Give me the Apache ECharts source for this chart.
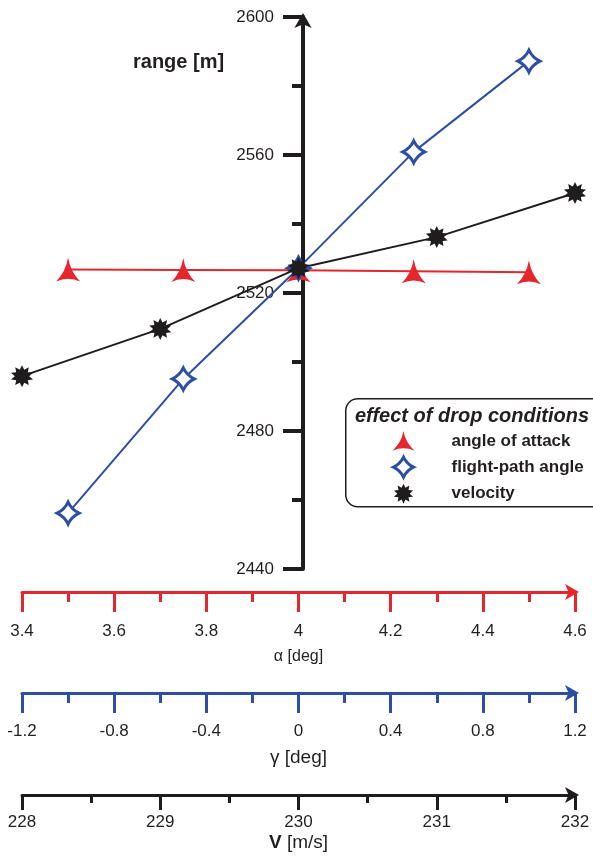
<!DOCTYPE html>
<html>
<head>
<meta charset="utf-8">
<script src="https://cdn.jsdelivr.net/npm/echarts@6/dist/echarts.min.js"></script>
<style>
  html, body { margin: 0; padding: 0; background: #fff; }
  #chart { width: 593px; height: 857px; }
</style>
</head>
<body>
<div id="chart"></div>
<script>
// data
const alphaVals = [3.5, 3.75, 4.0, 4.25, 4.5];
const alphaRange = [2526.8, 2526.7, 2526.6, 2526.3, 2526.0];
const gammaVals = [-1.0, -0.5, 0, 0.5, 1.0];
const gammaRange = [2456.2, 2495.1, 2527.2, 2560.9, 2587.2];
const velVals = [228, 229, 230, 231, 232];
const velRange = [2495.9, 2509.6, 2527.2, 2536.2, 2549.0];
const seriesNames = ['angle of attack', 'flight-path angle', 'velocity'];

const RED = '#e5262c', BLUE = '#2d4ea5', BLACK = '#1f1c1d';
const TXT = '#231f20';
const FONT = '"Liberation Sans", Arial, sans-serif';

// marker shapes
const triStar = 'path://M0,-11 Q1.8,-1 9.5,6 Q0,2 -9.5,6 Q-1.8,-1 0,-11Z';
const fourStar = 'path://M0,-10 Q3.2,-3.2 10,0 Q3.2,3.2 0,10 Q-3.2,3.2 -10,0 Q-3.2,-3.2 0,-10Z';
let p = '';
for (let i = 0; i < 20; i++) {
  const r = i % 2 === 0 ? 10 : 6.2;
  const a = Math.PI * i / 10 - Math.PI / 2;
  p += (i === 0 ? 'M' : 'L') + (r * Math.cos(a)).toFixed(2) + ',' + (r * Math.sin(a)).toFixed(2);
}
const manyStar = 'path://' + p + 'Z';

function zip(xs, ys) { return xs.map((x, i) => [x, ys[i]]); }

function bottomAxis(min, max, interval, offset, color, tickLen, labelMargin, name, nameGap, nameStyle) {
  return {
    type: 'value', position: 'bottom', offset: offset,
    min: min, max: max, interval: interval,
    name: name, nameLocation: 'middle', nameGap: nameGap, nameMoveOverlap: false,
    nameTextStyle: nameStyle,
    axisLine: { show: true, onZero: false, symbol: ['none', 'arrow'], symbolSize: [12, 14], symbolOffset: [0, 4],
      lineStyle: { color: color, width: 3 } },
    axisTick: { show: true, inside: false, length: tickLen, lineStyle: { color: color, width: 3 } },
    minorTick: { show: true, splitNumber: 2, length: Math.round(tickLen / 2), lineStyle: { color: color, width: 3 } },
    axisLabel: { color: TXT, fontSize: 17, fontFamily: FONT, margin: labelMargin, showMinLabel: true, showMaxLabel: true,
      formatter: v => String(+v.toFixed(2)) },
    splitLine: { show: false }
  };
}

const option = {
  animation: false,
  backgroundColor: '#fff',
  grid: { left: 22, right: 18, top: 17, bottom: 288, containLabel: false, outerBoundsMode: 'none' },
  xAxis: [
    bottomAxis(3.4, 4.6, 0.2, 23, RED, 20, 31, 'α [deg]', 57, { color: TXT, fontSize: 16, fontFamily: FONT }),
    bottomAxis(-1.2, 1.2, 0.4, 124, BLUE, 20, 30, 'γ [deg]', 55, { color: TXT, fontSize: 19, fontFamily: FONT }),
    bottomAxis(228, 232, 1, 226, BLACK, 15, 19, '{b|V} [m/s]', 38,
      { color: TXT, fontSize: 19, fontFamily: FONT, rich: { b: { fontWeight: 'bold', fontSize: 19, fontFamily: FONT, color: TXT } } })
  ],
  yAxis: [{
    type: 'value', position: 'left', offset: -281,
    min: 2440, max: 2600, interval: 40,
    axisLine: { show: true, onZero: false, symbol: ['none', 'arrow'], symbolSize: [13, 15], symbolOffset: [0, 4],
      lineStyle: { color: BLACK, width: 4 } },
    axisTick: { show: true, inside: false, length: 20, lineStyle: { color: BLACK, width: 4 } },
    minorTick: { show: true, splitNumber: 2, length: 11, lineStyle: { color: BLACK, width: 4 } },
    axisLabel: { color: TXT, fontSize: 17, fontFamily: FONT, margin: 29, showMinLabel: true, showMaxLabel: true,
      formatter: v => String(v) },
    splitLine: { show: false }
  }],
  legend: {
    orient: 'vertical', left: 387, top: 426,
    itemWidth: 22, itemHeight: 20, itemGap: 5,
    textStyle: { color: TXT, fontSize: 17, fontWeight: 'bold', fontFamily: FONT, padding: [0, 0, 0, 32] },
    data: [
      { name: seriesNames[0], icon: triStar, itemStyle: { color: RED, borderWidth: 0 } },
      { name: seriesNames[1], icon: fourStar, itemStyle: { color: '#fff', borderColor: BLUE, borderWidth: 3 } },
      { name: seriesNames[2], icon: manyStar, itemStyle: { color: BLACK, borderWidth: 0 } }
    ],
    z: 20
  },
  graphic: [
    { type: 'text', left: 133, top: 52, z: 10,
      style: { text: 'range [m]', fill: TXT, font: 'bold 20px ' + FONT } },
    { type: 'rect', left: 345, top: 398, z: 5,
      shape: { width: 270, height: 108, r: 12 },
      style: { fill: '#fff', stroke: BLACK, lineWidth: 1.5 } },
    { type: 'text', left: 355, top: 406, z: 10,
      style: { text: 'effect of drop conditions', fill: TXT, font: 'italic bold 20px ' + FONT } }
  ],
  series: [
    { name: seriesNames[0], type: 'line', xAxisIndex: 0, yAxisIndex: 0, clip: false,
      data: zip(alphaVals, alphaRange), symbol: triStar, symbolSize: [24, 24],
      lineStyle: { color: RED, width: 2 }, itemStyle: { color: RED } },
    { name: seriesNames[1], type: 'line', xAxisIndex: 1, yAxisIndex: 0, clip: false,
      data: zip(gammaVals, gammaRange), symbol: fourStar, symbolSize: 22,
      lineStyle: { color: BLUE, width: 2 }, itemStyle: { color: '#fff', borderColor: BLUE, borderWidth: 3 } },
    { name: seriesNames[2], type: 'line', xAxisIndex: 2, yAxisIndex: 0, clip: false,
      data: zip(velVals, velRange), symbol: manyStar, symbolSize: 22,
      lineStyle: { color: BLACK, width: 2 }, itemStyle: { color: BLACK } }
  ]
};

const chart = echarts.init(document.getElementById('chart'));
chart.setOption(option);
</script>
</body>
</html>
